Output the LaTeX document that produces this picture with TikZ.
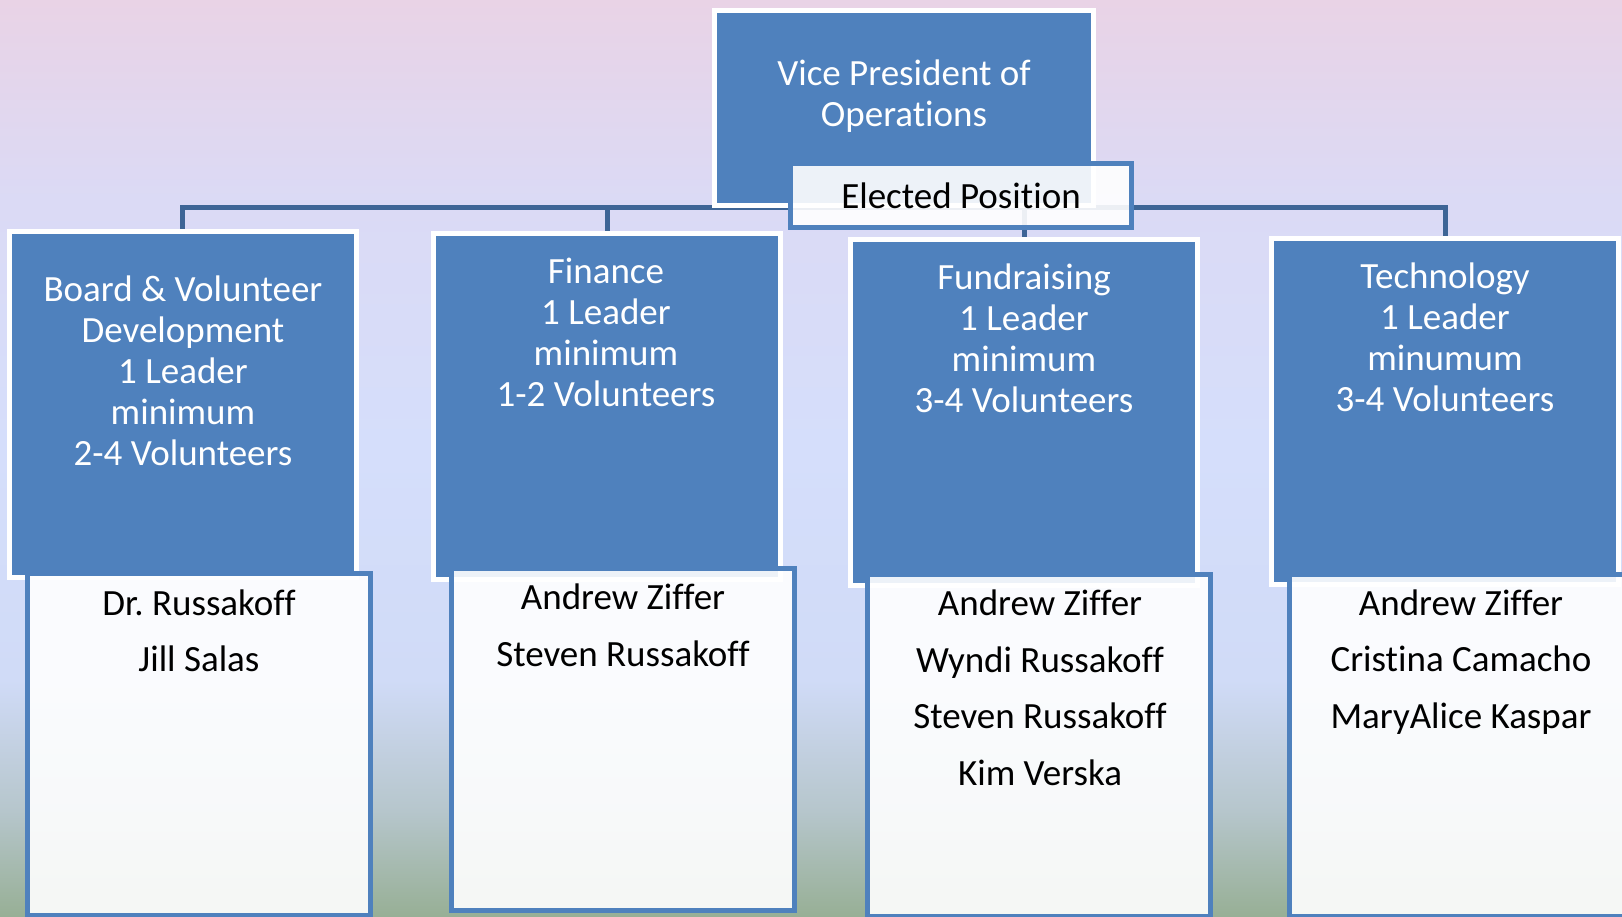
\documentclass[tikz,border=0pt]{standalone}
\usepackage{fontspec}
\setmainfont{Carlito}[Ligatures={NoCommon,NoRequired,NoContextual}]
\usepackage{tikz}
\usetikzlibrary{positioning}
\frenchspacing

\definecolor{boxblue}{RGB}{79,129,189}
\definecolor{lineblue}{RGB}{62,101,150}
\definecolor{bgpink}{RGB}{233,211,230}
\definecolor{bglav}{RGB}{219,218,245}
\definecolor{bgblue}{RGB}{213,222,251}
\definecolor{bgbluetwo}{RGB}{208,219,247}
\definecolor{bggray}{RGB}{182,198,204}
\definecolor{bggreen}{RGB}{151,175,149}

\pgfdeclareverticalshading{slidebg}{100bp}{color(0bp)=(bggreen); color(25bp)=(bggreen); color(30.8bp)=(bggray); color(37.9bp)=(bgbluetwo); color(50.5bp)=(bgblue); color(64.1bp)=(bglav); color(75bp)=(bgpink); color(100bp)=(bgpink)}

\pgfdeclarelayer{bg}
\pgfdeclarelayer{wires}
\pgfsetlayers{bg,wires,main}

\tikzset{
  boss/.style={draw=white, line width=5pt, fill=boxblue, minimum width=379pt, minimum height=195pt, inner sep=0pt},
  team/.style={draw=white, line width=5pt, fill=boxblue, minimum width=347pt, minimum height=346pt, inner sep=0pt},
  names/.style={draw=boxblue, line width=5pt, fill=white, fill opacity=0.9, text opacity=1, minimum width=343pt, minimum height=342pt, inner sep=0pt},
  tag/.style={names, minimum width=341pt, minimum height=64pt, text=black, font=\fontsize{37}{41}\selectfont},
  headtxt/.style={text=white, align=center, font=\fontsize{37}{41}\selectfont, inner sep=0pt},
  nametxt/.style={text=black, align=center, font=\fontsize{37}{56.5}\selectfont, inner sep=0pt},
  wire/.style={draw=lineblue, line width=5pt}
}

\begin{document}
\begin{tikzpicture}[x=1pt,y=1pt]
\useasboundingbox (0,0) rectangle (1622,917);

%Background
\begin{pgfonlayer}{bg}
\shade[shading=slidebg] (0,0) rectangle (1622,917);
\end{pgfonlayer}

%Shape: Rectangle [top]
\node[boss] (vp) at (904,809) {};
%Shape: Rectangle [teams]
\node[team] (board) at (182.5,512.5) {};
\node[team] (fin) at (607,510) {};
\node[team] (fund) at (1024,504.5) {};
\node[team] (tech) at (1445,505.5) {};

%Lines
\begin{pgfonlayer}{wires}
\foreach \t in {board,fin,fund,tech}
  \draw[wire] (vp.south) -| (\t.north);
\end{pgfonlayer}

%Shape: Rectangle [tag]
\node[tag] (elect) at (961,721.5) {Elected Position};

%Shape: Rectangle [members]
\node[names] (boardn) at (199,172) {};
\node[names] (finn) at (623,177) {};
\node[names] (fundn) at (1039,171.5) {};
\node[names] (techn) at (1461,171.5) {};

% Text Node
\node[headtxt] (vptxt) at (904,820.5) {Vice President of\\Operations};
% Text Node
\node[headtxt] (boardtxt) at (183,546.5) {Board \& Volunteer\\Development\\1 Leader\\minimum\\2-4 Volunteers};
% Text Node
\node[headtxt] (fintxt) at (606,584.5) {Finance\\1 Leader\\minimum\\1-2 Volunteers};
% Text Node
\node[headtxt] (fundtxt) at (1024,578.5) {Fundraising\\1 Leader\\minimum\\3-4 Volunteers};
% Text Node
\node[headtxt] (techtxt) at (1445,580) {Technology\\1 Leader\\minumum\\3-4 Volunteers};
% Text Node
\node[nametxt] (boardnm) at (199,286) {Dr. Russakoff\\Jill Salas};
% Text Node
\node[nametxt] (finnm) at (623,291.5) {Andrew Ziffer\\Steven Russakoff};
% Text Node
\node[nametxt] (fundnm) at (1040,229) {Andrew Ziffer\\Wyndi Russakoff\\Steven Russakoff\\Kim Verska};
% Text Node
\node[nametxt] (technm) at (1461,255) {Andrew Ziffer\\Cristina Camacho\\MaryAlice Kaspar};
\end{tikzpicture}
\end{document}
